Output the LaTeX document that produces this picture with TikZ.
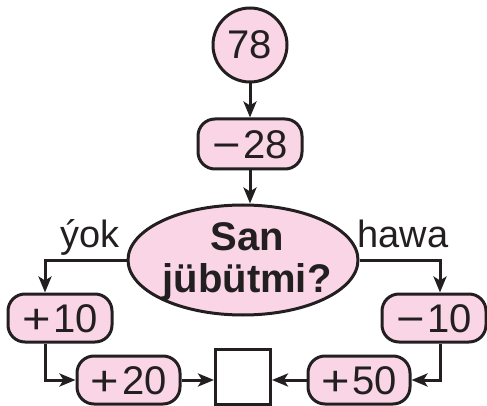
\documentclass[tikz,border=0pt]{standalone}
\usepackage{fontspec}
\setmainfont{Liberation Sans}
\usetikzlibrary{shapes.geometric,arrows.meta}
\definecolor{pinkfill}{HTML}{F9D5E6}
\definecolor{ink}{HTML}{231F20}
\newcommand\sgn[1]{\raisebox{-1pt}{\scalebox{1.22}[1.05]{#1}}\kern3pt}
\begin{document}
\begin{tikzpicture}[x=1pt,y=-1pt,
  every node/.style={text=ink},
  numbox/.style={draw=ink, line width=3pt, fill=pinkfill, rounded corners=17pt,
    minimum width=104pt, minimum height=48pt, inner sep=0pt,
    text height=28.6pt, text depth=0pt,
    font=\fontsize{40}{40}\selectfont},
  lowbox/.style={numbox, minimum height=48pt},
  startcirc/.style={circle, draw=ink, line width=3pt, fill=pinkfill,
    minimum size=74pt, inner sep=0pt, font=\fontsize{40}{40}\selectfont},
  decision/.style={ellipse, draw=ink, line width=3pt, fill=pinkfill,
    minimum width=230pt, minimum height=110pt, inner sep=0pt},
  qtext/.style={inner sep=0pt, anchor=base, font=\fontsize{40}{40}\selectfont\bfseries},
  lbl/.style={inner sep=0pt, anchor=base, font=\fontsize{38}{38}\selectfont},
  resbox/.style={draw=ink, line width=3pt, fill=white, minimum size=55pt, inner sep=0pt},
  conn/.style={draw=ink, line width=3pt, -{Stealth[length=16pt,width=13pt,inset=4pt]}}
]
\useasboundingbox (0,0) rectangle (487,406);

\node[startcirc] (n78) at (250,45) {78};
\node[numbox, minimum height=50pt] (m28) at (250,144) {\sgn{−}28};
\node[decision] (q) at (243,260) {};
\node[qtext] (qa) at (247,250) {San};
\node[qtext] (qb) at (247,292) {jübütmi?};
\node[lbl] (yok) at (90,247) {ýok};
\node[lbl] (hawa) at (403,247) {hawa};
\node[numbox] (p10) at (60,318) {\sgn{+}10};
\node[numbox] (m10) at (434,318) {\sgn{−}10};
\node[lowbox, minimum width=103pt] (p20) at (128.5,380) {\sgn{+}20};
\node[lowbox, minimum width=102pt] (p50) at (359,380) {\sgn{+}50};
\node[resbox] (sq) at (243,376.5) {};

\draw[conn] (n78) -- (m28);
\draw[conn] (m28.south) -- (m28.south |- q.north);
\draw[conn] (q.west) -| ([xshift=-15pt]p10.north);
\draw[conn] ([xshift=-15pt]p10.south) |- (p20.west);
\draw[conn] (q.east) -| ([xshift=6pt]m10.north);
\draw[conn] ([xshift=6pt]m10.south) |- (p50.east);
\draw[conn] (p20.east) -- (p20.east -| sq.west);
\draw[conn] (p50.west) -- (p50.west -| sq.east);
\end{tikzpicture}
\end{document}
